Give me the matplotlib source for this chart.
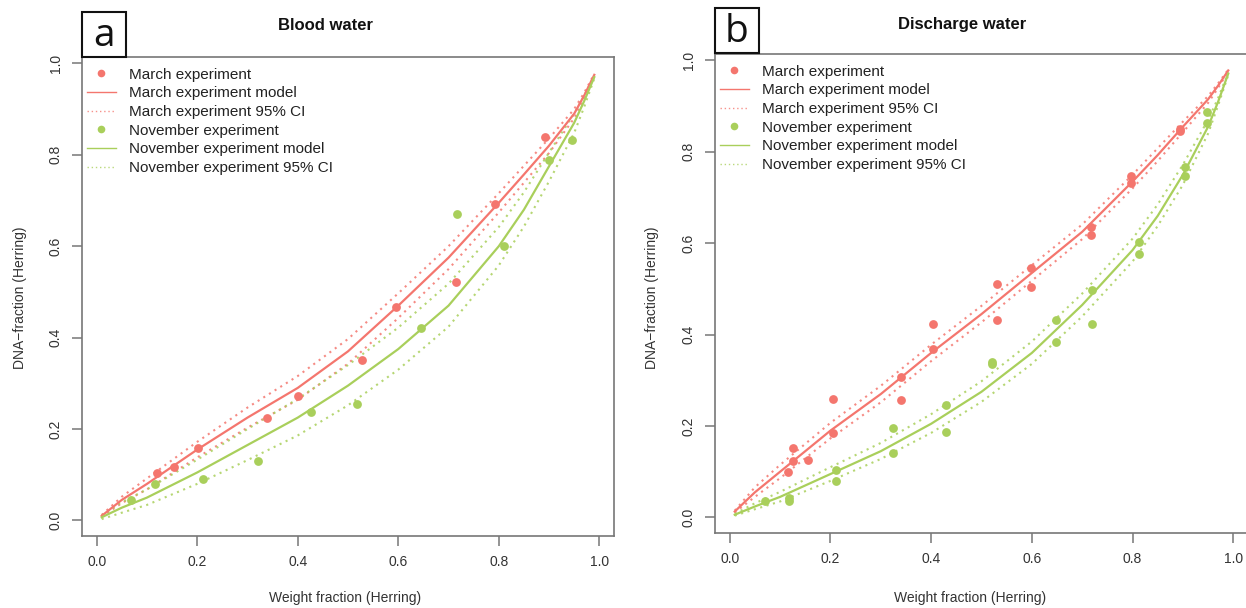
import matplotlib
matplotlib.use("Agg")
import matplotlib.pyplot as plt
from matplotlib.lines import Line2D
from matplotlib.patches import Rectangle

plt.rcParams["font.family"] = ["Liberation Sans", "DejaVu Sans"]

# Colores de las dos series
RED = "#F4766E"
GREEN = "#A9CF5B"

# Rejilla del modelo (fracción en peso)
x_grid = [0.01, 0.05, 0.1, 0.2, 0.3, 0.4, 0.5, 0.6, 0.7, 0.8, 0.85, 0.9, 0.95, 0.97, 0.99]

# --- Blood water ---
blood_mar_x = [0.120, 0.153, 0.202, 0.339, 0.401, 0.527, 0.595, 0.714, 0.793, 0.892]
blood_mar_y = [0.104, 0.118, 0.158, 0.225, 0.272, 0.350, 0.467, 0.521, 0.693, 0.840]
blood_nov_x = [0.069, 0.117, 0.211, 0.321, 0.427, 0.518, 0.645, 0.717, 0.810, 0.900, 0.945]
blood_nov_y = [0.045, 0.079, 0.091, 0.131, 0.237, 0.255, 0.420, 0.671, 0.600, 0.788, 0.833]

blood_mar_fit = [0.010, 0.045, 0.080, 0.155, 0.225, 0.290, 0.370, 0.470, 0.575, 0.695, 0.757, 0.820, 0.890, 0.930, 0.975]
blood_mar_hi = [0.012, 0.052, 0.092, 0.172, 0.247, 0.316, 0.397, 0.497, 0.600, 0.716, 0.776, 0.836, 0.900, 0.936, 0.977]
blood_mar_lo = [0.008, 0.038, 0.068, 0.138, 0.203, 0.264, 0.343, 0.443, 0.550, 0.674, 0.739, 0.804, 0.880, 0.925, 0.973]
blood_nov_fit = [0.007, 0.028, 0.050, 0.105, 0.165, 0.225, 0.295, 0.375, 0.470, 0.600, 0.680, 0.775, 0.870, 0.918, 0.970]
blood_nov_hi = [0.011, 0.040, 0.068, 0.133, 0.200, 0.266, 0.340, 0.422, 0.518, 0.642, 0.718, 0.805, 0.890, 0.930, 0.972]
blood_nov_lo = [0.003, 0.017, 0.034, 0.080, 0.132, 0.186, 0.252, 0.330, 0.424, 0.558, 0.643, 0.742, 0.848, 0.905, 0.967]

# --- Discharge water ---
disch_mar_x = [0.115, 0.126, 0.126, 0.156, 0.206, 0.206, 0.341, 0.341, 0.403, 0.403,
               0.530, 0.530, 0.598, 0.598, 0.717, 0.717, 0.796, 0.796, 0.895, 0.895]
disch_mar_y = [0.100, 0.123, 0.153, 0.126, 0.185, 0.260, 0.257, 0.308, 0.369, 0.424,
               0.433, 0.511, 0.505, 0.545, 0.619, 0.635, 0.731, 0.747, 0.846, 0.850]
disch_nov_x = [0.071, 0.118, 0.118, 0.212, 0.212, 0.325, 0.325, 0.429, 0.429, 0.521, 0.521,
               0.648, 0.648, 0.720, 0.720, 0.812, 0.812, 0.904, 0.904, 0.948, 0.948]
disch_nov_y = [0.036, 0.037, 0.043, 0.080, 0.104, 0.142, 0.196, 0.187, 0.245, 0.335, 0.340,
               0.384, 0.433, 0.424, 0.498, 0.577, 0.603, 0.746, 0.766, 0.863, 0.888]

disch_mar_fit = [0.013, 0.055, 0.100, 0.190, 0.270, 0.360, 0.445, 0.535, 0.625, 0.735, 0.793, 0.855, 0.915, 0.945, 0.978]
disch_mar_hi = [0.015, 0.066, 0.115, 0.207, 0.288, 0.378, 0.463, 0.552, 0.641, 0.750, 0.808, 0.866, 0.922, 0.950, 0.980]
disch_mar_lo = [0.011, 0.045, 0.086, 0.173, 0.252, 0.342, 0.427, 0.518, 0.609, 0.720, 0.780, 0.843, 0.907, 0.940, 0.976]
disch_nov_fit = [0.006, 0.024, 0.045, 0.095, 0.145, 0.205, 0.275, 0.360, 0.465, 0.585, 0.660, 0.750, 0.855, 0.910, 0.971]
disch_nov_hi = [0.008, 0.031, 0.056, 0.110, 0.163, 0.226, 0.298, 0.385, 0.490, 0.610, 0.685, 0.772, 0.870, 0.918, 0.974]
disch_nov_lo = [0.004, 0.018, 0.035, 0.080, 0.128, 0.185, 0.253, 0.336, 0.440, 0.560, 0.638, 0.728, 0.840, 0.902, 0.968]

ticks = [0.0, 0.2, 0.4, 0.6, 0.8, 1.0]
tick_labels = ["0.0", "0.2", "0.4", "0.6", "0.8", "1.0"]
legend_labels = ["March experiment", "March experiment model", "March experiment 95% CI",
                 "November experiment", "November experiment model", "November experiment 95% CI"]

W, H = 1246, 608
fig = plt.figure(figsize=(W / 100, H / 100), dpi=100)

DOT = (0, (1, 2.2))


def px_box(left, top, right, bottom):
    # convierte un rectángulo en píxeles a coordenadas de figura
    return [left / W, 1 - bottom / H, (right - left) / W, (bottom - top) / H]


def draw_panel(ax, mar_x, mar_y, nov_x, nov_y, mar_fit, mar_lo, mar_hi, nov_fit, nov_lo, nov_hi):
    ax.plot(x_grid, mar_hi, color=RED, lw=1.5, ls=DOT, alpha=0.85)
    ax.plot(x_grid, mar_lo, color=RED, lw=1.5, ls=DOT, alpha=0.85)
    ax.plot(x_grid, nov_hi, color=GREEN, lw=1.5, ls=DOT, alpha=0.85)
    ax.plot(x_grid, nov_lo, color=GREEN, lw=1.5, ls=DOT, alpha=0.85)
    ax.plot(x_grid, mar_fit, color=RED, lw=1.6)
    ax.plot(x_grid, nov_fit, color=GREEN, lw=1.6)
    ax.scatter(mar_x, mar_y, s=40, color=RED, zorder=3, linewidths=0)
    ax.scatter(nov_x, nov_y, s=40, color=GREEN, zorder=3, linewidths=0)

    ax.set_xlim(-0.0292, 1.0292)
    ax.set_ylim(-0.034, 1.014)
    ax.set_xticks(ticks)
    ax.set_xticklabels(tick_labels)
    ax.set_yticks(ticks)
    ax.set_yticklabels(tick_labels, rotation=90, va="center")
    ax.tick_params(direction="out", length=7, width=1.1, color="#777777",
                   labelsize=10, labelcolor="#333333")
    ax.tick_params(axis="x", pad=7)
    ax.tick_params(axis="y", pad=7)
    for s in ax.spines.values():
        s.set_color("#777777")
        s.set_linewidth(1.2)

    handles = [
        Line2D([], [], ls="none", marker="o", ms=5.5, color=RED, mew=0),
        Line2D([], [], color=RED, lw=1),
        Line2D([], [], color=RED, lw=1, ls=(0, (1, 2)), alpha=0.8),
        Line2D([], [], ls="none", marker="o", ms=5.5, color=GREEN, mew=0),
        Line2D([], [], color=GREEN, lw=1),
        Line2D([], [], color=GREEN, lw=1, ls=(0, (1, 2)), alpha=0.8),
    ]
    ax.legend(handles, legend_labels, loc="upper left", bbox_to_anchor=(0, 0.9875),
              frameon=False, fontsize=11, borderaxespad=0, borderpad=0.3,
              handlelength=1.9, handletextpad=0.85, labelspacing=0.305,
              labelcolor="#222222")


# Panel a
ax1 = fig.add_axes(px_box(82, 57, 614, 536))
draw_panel(ax1, blood_mar_x, blood_mar_y, blood_nov_x, blood_nov_y,
           blood_mar_fit, blood_mar_lo, blood_mar_hi, blood_nov_fit, blood_nov_lo, blood_nov_hi)

# Panel b
ax2 = fig.add_axes(px_box(715, 54, 1248, 533))
draw_panel(ax2, disch_mar_x, disch_mar_y, disch_nov_x, disch_nov_y,
           disch_mar_fit, disch_mar_lo, disch_mar_hi, disch_nov_fit, disch_nov_lo, disch_nov_hi)

# Títulos, etiquetas de ejes y letras de panel
fig.text(325 / W, 1 - 25 / H, "Blood water", ha="center", va="center",
         fontsize=12, fontweight="bold", color="#111111")
fig.text(962 / W, 1 - 24 / H, "Discharge water", ha="center", va="center",
         fontsize=12, fontweight="bold", color="#111111")

for cx in (345, 970):
    fig.text(cx / W, 1 - 598 / H, "Weight fraction (Herring)", ha="center", va="center",
             fontsize=10, color="#333333")
for cx in (20, 652):
    fig.text(cx / W, 1 - 298 / H, "DNA\u2212fraction (Herring)", ha="center", va="center",
             rotation=90, fontsize=10, color="#333333")

for (l, t, r, b), letter in (((82, 12, 126, 57), "a"), ((715, 8, 759, 53), "b")):
    fig.patches.append(Rectangle((l / W, 1 - b / H), (r - l) / W, (b - t) / H,
                                 transform=fig.transFigure, fill=False,
                                 edgecolor="#111111", linewidth=1.5))
    fig.text((l + r) / 2 / W, 1 - ((t + b) / 2 + 2) / H, letter, ha="center", va="center",
             fontsize=28, family=["Open Sans", "DejaVu Sans"], color="#111111")

fig.savefig("out.png", dpi=100)
